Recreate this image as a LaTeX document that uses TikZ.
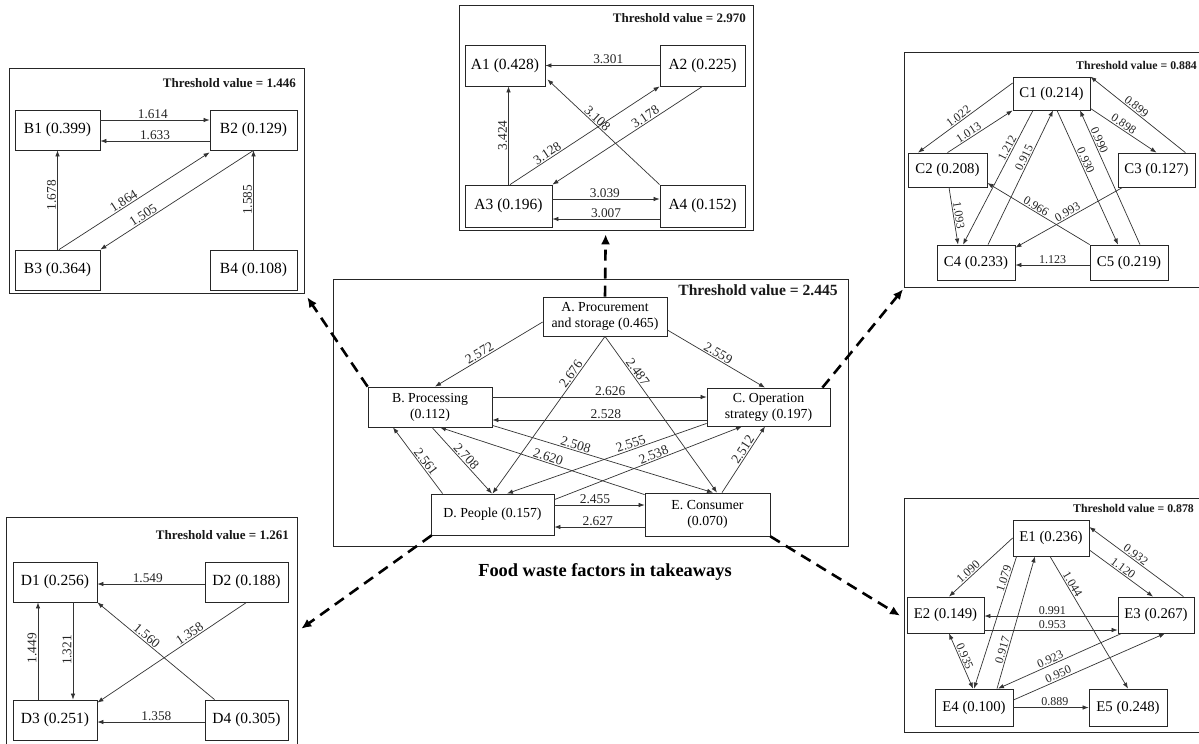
\documentclass[tikz,border=0pt]{standalone}
\usepackage{fontspec}
\setmainfont{Liberation Serif}
\usetikzlibrary{arrows.meta,calc}

% font sizes (picture unit is 1pt)
\newcommand\fbA{\fontsize{15.5}{17}\selectfont}
\newcommand\fbC{\fontsize{14.8}{17}\selectfont}
\newcommand\flA{\fontsize{13.3}{15}\selectfont}
\newcommand\flC{\fontsize{12}{14}\selectfont}
\newcommand\fthA{\bfseries\fontsize{13}{15}\selectfont}
\newcommand\fthC{\bfseries\fontsize{11.8}{14}\selectfont}
\newcommand\fbM{\fontsize{13.8}{16}\selectfont}
\newcommand\flM{\fontsize{13.5}{15}\selectfont}
\newcommand\fthM{\bfseries\fontsize{15.6}{18}\selectfont}
\newcommand\fttl{\bfseries\fontsize{18.4}{21}\selectfont}

\begin{document}
\begin{tikzpicture}[x=1pt,y=-1pt,
  panel/.style={draw=black!85, line width=1.3pt, inner sep=0pt, anchor=north west},
  thr/.style={inner sep=0pt, anchor=east, text=black!90},
  bx/.style={draw=black!85, line width=0.8pt, inner sep=0pt, align=center, fill=white},
  boxA/.style={bx, font=\fbA},
  boxC/.style={bx, font=\fbC},
  boxM/.style={bx, font=\fbM},
  arr/.style={draw=black!80, line width=0.7pt, -{Latex[length=6pt,width=4.5pt]}},
  biarr/.style={draw=black!80, line width=0.7pt, {Latex[length=6pt,width=4.5pt]}-{Latex[length=6pt,width=4.5pt]}},
  labA/.style={font=\flA, inner sep=1pt, text=black!85},
  labC/.style={font=\flC, inner sep=1pt, text=black!85},
  labM/.style={font=\flM, inner sep=1pt, text=black!85},
  vlab/.style={rotate=90, anchor=south},
  dasharr/.style={draw=black, line width=2.6pt, dash pattern=on 11pt off 7pt, -{Latex[length=10pt,width=9pt]}}
]
\fill[white] (0,0) rectangle (1199,744);
\useasboundingbox (0,0) rectangle (1199,744);

% ---------------- Panel A ----------------
\node[panel, minimum width=294, minimum height=225] (PA) at (459,5) {};
\node[thr, font=\fthA] (TA) at (746,18) {Threshold value = 2.970};
\node[boxA, minimum width=80, minimum height=41] (A1) at (505,65.5) {A1 (0.428)};
\node[boxA, minimum width=85, minimum height=41] (A2) at (702.5,65.5) {A2 (0.225)};
\node[boxA, minimum width=87, minimum height=42] (A3) at (508.5,206) {A3 (0.196)};
\node[boxA, minimum width=85, minimum height=42] (A4) at (702.5,206) {A4 (0.152)};

\draw[arr] (A2.west) -- node[labA, pos=0.45, above] {3.301} (A1.east);
\draw[arr] (A3.north) -- node[labA, pos=0.5, vlab] {3.424} (A3.north |- A1.south);
\draw[arr] ([shift={(1.5,0)}]A3.north) -- node[labA, pos=0.27, sloped, above] {3.128} (A2.south west);
\draw[arr] (A2.south) -- node[labA, pos=0.36, sloped, above] {3.178} (A3.north east);
\draw[arr] (A4.north west) -- node[labA, pos=0.59, sloped, above] {3.108} ([shift={(2,-7)}]A1.south east);
\draw[arr] ([shift={(0,-7)}]A3.east) -- node[labA, pos=0.49, above] {3.039} ([shift={(0,-7)}]A4.west);
\draw[arr] ([shift={(0,13)}]A4.west) -- node[labA, pos=0.5, above] {3.007} ([shift={(0,13)}]A3.east);

% ---------------- Panel B ----------------
\node[panel, minimum width=295, minimum height=225] (PB) at (9,68) {};
\node[thr, font=\fthA] (TB) at (296,83) {Threshold value = 1.446};
\node[boxA, minimum width=85, minimum height=40] (B1) at (57.5,130) {B1 (0.399)};
\node[boxA, minimum width=87, minimum height=40] (B2) at (253.5,130) {B2 (0.129)};
\node[boxA, minimum width=85, minimum height=40] (B3) at (57.5,270) {B3 (0.364)};
\node[boxA, minimum width=87, minimum height=40] (B4) at (253.5,270) {B4 (0.108)};

\draw[arr] ([shift={(0,-10)}]B1.east) -- node[labA, pos=0.48, above] {1.614} ([shift={(0,-10)}]B2.west);
\draw[arr] ([shift={(0,11)}]B2.west) -- node[labA, pos=0.5, above] {1.633} ([shift={(0,11)}]B1.east);
\draw[arr] (B3.north) -- node[labA, pos=0.55, vlab] {1.678} (B1.south);
\draw[arr] ([shift={(1.5,0)}]B3.north) -- node[labA, pos=0.45, sloped, above] {1.864} ([shift={(0,2)}]B2.south west);
\draw[arr] (B2.south) -- node[labA, pos=0.7, sloped, above] {1.505} (B3.north east);
\draw[arr] (B4.north) -- node[labA, pos=0.5, vlab] {1.585} (B2.south);

% ---------------- Panel C ----------------
\node[panel, minimum width=298, minimum height=235] (PC) at (904,52) {};
\node[thr, font=\fthC] (TC) at (1197,65) {Threshold value = 0.884};
\node[boxC, minimum width=77, minimum height=33] (C1) at (1051.5,93.5) {C1 (0.214)};
\node[boxC, minimum width=79, minimum height=34] (C2) at (947.5,170) {C2 (0.208)};
\node[boxC, minimum width=77, minimum height=34] (C3) at (1156.5,170) {C3 (0.127)};
\node[boxC, minimum width=78, minimum height=35] (C4) at (976,262.5) {C4 (0.233)};
\node[boxC, minimum width=78, minimum height=35] (C5) at (1129,262.5) {C5 (0.219)};

\draw[arr] ([shift={(0,-10.5)}]C1.west) -- node[labC, pos=0.54, sloped, above] {1.022} ([shift={(-29.5,0)}]C2.north);
\draw[arr] (C2.north) -- node[labC, pos=0.37, sloped, above] {1.013} (C1.south west);
\draw[arr] ([shift={(0,-2)}]C1.south east) -- node[labC, pos=0.46, sloped, above] {0.898} (C3.north);
\draw[arr] ([shift={(-10,0)}]C3.north east) -- node[labC, pos=0.55, sloped, above] {0.899} (C1.north east);
\draw[arr] ([shift={(1.5,0)}]C2.south) -- node[labC, pos=0.5, sloped, above] {1.093} ([shift={(-18,0)}]C4.north);
\draw[arr] ([shift={(-18.5,0)}]C1.south) -- node[labC, pos=0.3, sloped, above] {1.212} ([shift={(-13,0)}]C4.north);
\draw[arr] ([shift={(12,0)}]C4.north) -- node[labC, pos=0.63, sloped, above] {0.915} ([shift={(1.5,0)}]C1.south);
\draw[arr] ([shift={(5.5,0)}]C1.south) -- node[labC, pos=0.39, sloped, above] {0.930} ([shift={(-11,0)}]C5.north);
\draw[arr] ([shift={(11,0)}]C5.north) -- node[labC, pos=0.76, sloped, above] {0.990} ([shift={(28.5,0)}]C1.south);
\draw[arr] (C5.north west) -- node[labC, pos=0.55, sloped, above] {0.966} ([shift={(0,13)}]C2.east);
\draw[arr] ([shift={(5,0)}]C3.south west) -- node[labC, pos=0.49, sloped, above] {0.993} ([shift={(0,3)}]C4.north east);
\draw[arr] ([shift={(0,2.5)}]C5.west) -- node[labC, pos=0.5, above] {1.123} ([shift={(0,2.5)}]C4.east);

% ---------------- Panel D ----------------
\node[panel, minimum width=291, minimum height=232] (PD) at (6,517) {};
\node[thr, font=\fthA] (TD) at (289,535) {Threshold value = 1.261};
\node[boxA, minimum width=84, minimum height=40] (D1) at (55,582) {D1 (0.256)};
\node[boxA, minimum width=83, minimum height=40] (D2) at (246.5,582) {D2 (0.188)};
\node[boxA, minimum width=84, minimum height=40] (D3) at (55,720) {D3 (0.251)};
\node[boxA, minimum width=83, minimum height=40] (D4) at (246.5,720) {D4 (0.305)};

\draw[arr] ([shift={(0,2)}]D2.west) -- node[labA, pos=0.53, above] {1.549} ([shift={(0,2)}]D1.east);
\draw[arr] ([shift={(-17,0)}]D3.north) -- node[labA, pos=0.53, vlab] {1.449} ([shift={(-17,0)}]D1.south);
\draw[arr] ([shift={(18,0)}]D1.south) -- node[labA, pos=0.49, vlab] {1.321} ([shift={(18,0)}]D3.north);
\draw[arr] ([shift={(10,0)}]D4.north west) -- node[labA, pos=0.61, sloped, above] {1.560} (D1.south east);
\draw[arr] (D2.south) -- node[labA, pos=0.36, sloped, above] {1.358} ([shift={(0,3)}]D3.north east);
\draw[arr] ([shift={(0,2)}]D4.west) -- node[labA, pos=0.45, above] {1.358} ([shift={(0,2)}]D3.east);

% ---------------- Panel E ----------------
\node[panel, minimum width=298, minimum height=234] (PE) at (904,498) {};
\node[thr, font=\fthC] (TE) at (1194,508) {Threshold value = 0.878};
\node[boxC, minimum width=76, minimum height=36] (E1) at (1051,538) {E1 (0.236)};
\node[boxC, minimum width=77, minimum height=36] (E2) at (945.5,615) {E2 (0.149)};
\node[boxC, minimum width=76, minimum height=36] (E3) at (1156,615) {E3 (0.267)};
\node[boxC, minimum width=78, minimum height=37] (E4) at (974,707.5) {E4 (0.100)};
\node[boxC, minimum width=78, minimum height=37] (E5) at (1128,707.5) {E5 (0.248)};

\draw[arr] (E1.west) -- node[labC, pos=0.64, sloped, above] {1.090} ([shift={(3.5,0)}]E2.north);
\draw[arr] ([shift={(4,0)}]E1.south west) -- node[labC, pos=0.18, sloped, above] {1.079} (E4.north);
\draw[arr] ([shift={(23,0)}]E4.north) -- node[labC, pos=0.28, sloped, above] {0.917} ([shift={(-16,0)}]E1.south);
\draw[arr] ([shift={(0,12)}]E1.east) -- node[labC, pos=0.48, sloped, above] {1.120} ([shift={(-3,0)}]E3.north);
\draw[arr] ([shift={(-11,0)}]E3.north east) -- node[labC, pos=0.54, sloped, above] {0.932} ([shift={(0,-11)}]E1.east);
\draw[arr] ([shift={(-1,0)}]E1.south) -- node[labC, pos=0.23, sloped, above] {1.044} (E5.north);
\draw[arr] ([shift={(0,1)}]E3.west) -- node[labC, pos=0.49, above] {0.991} ([shift={(0,1)}]E2.east);
\draw[arr] ([shift={(0,15)}]E2.east) -- node[labC, pos=0.51, above] {0.953} ([shift={(0,15)}]E3.west);
\draw[biarr] ([shift={(3.5,0)}]E2.south) -- node[labC, pos=0.45, sloped, above] {0.935} ([shift={(-1,0)}]E4.north);
\draw[arr] ([shift={(4,0)}]E3.south west) -- node[labC, pos=0.56, sloped, above] {0.923} ([shift={(24,0)}]E4.north);
\draw[arr] ([shift={(0,-7.5)}]E4.east) -- node[labC, pos=0.31, sloped, above] {0.950} ([shift={(9,0)}]E3.south);
\draw[arr] (E4.east) -- node[labC, pos=0.55, above] {0.889} (E5.west);

% ---------------- Main panel ----------------
\node[panel, minimum width=515, minimum height=267] (PM) at (333,279) {};
\node[thr, font=\fthM] (TM) at (838,290) {Threshold value = 2.445};
\node[boxM, minimum width=124, minimum height=39] (A) at (605,316.5) {A. Procurement\\and storage (0.465)};
\node[boxM, minimum width=124, minimum height=40] (B) at (430,407) {B. Processing\\(0.112)};
\node[boxM, minimum width=123, minimum height=38] (C) at (768.5,407) {C. Operation\\strategy (0.197)};
\node[boxM, minimum width=123, minimum height=41] (D) at (492.5,514.5) {D. People (0.157)};
\node[boxM, minimum width=125, minimum height=43] (E) at (707.5,514.5) {E. Consumer\\(0.070)};

\draw[arr] ([shift={(0,5.5)}]A.west) -- node[labM, pos=0.56, sloped, above] {2.572} ([shift={(5,0)}]B.north);
\draw[arr] ([shift={(0,13.5)}]A.east) -- node[labM, pos=0.49, sloped, above] {2.559} ([shift={(-3.5,0)}]C.north);
\draw[arr] (A.south) -- node[labM, pos=0.26, sloped, above] {2.676} (D.north);
\draw[arr] (A.south) -- node[labM, pos=0.25, sloped, above] {2.487} ([shift={(9.5,0)}]E.north);
\draw[arr] ([shift={(0,-10)}]B.east) -- node[labM, pos=0.55, above] {2.626} ([shift={(0,-10)}]C.west);
\draw[arr] ([shift={(0,13)}]C.west) -- node[labM, pos=0.47, above] {2.528} ([shift={(0,13)}]B.east);
\draw[arr] ([shift={(12,0)}]D.north west) -- node[labM, pos=0.43, sloped, above] {2.561} ([shift={(-37,0)}]B.south);
\draw[arr] ([shift={(2,0)}]B.south) -- node[labM, pos=0.5, sloped, above] {2.708} ([shift={(-0.5,0)}]D.north);
\draw[arr] ([shift={(0,2)}]E.north west) -- node[labM, pos=0.48, sloped, above] {2.620} ([shift={(10,0)}]B.south);
\draw[arr] ([shift={(0,-2)}]B.south east) -- node[labM, pos=0.37, sloped, above] {2.508} ([shift={(5.5,0)}]E.north);
\draw[arr] ([shift={(0,-3)}]C.south west) -- node[labM, pos=0.37, sloped, above] {2.555} ([shift={(14.5,0)}]D.north);
\draw[arr] ([shift={(0,6)}]D.north east) -- node[labM, pos=0.54, sloped, above] {2.538} ([shift={(-26.5,0)}]C.south);
\draw[arr] ([shift={(14.5,0)}]E.north) -- node[labM, pos=0.6, sloped, above] {2.512} ([shift={(-3.5,0)}]C.south);
\draw[arr] ([shift={(0,-9.5)}]D.east) -- node[labM, pos=0.45, above] {2.455} ([shift={(0,-9.5)}]E.west);
\draw[arr] ([shift={(0,12.5)}]E.west) -- node[labM, pos=0.52, above] {2.627} ([shift={(0,12.5)}]D.east);

\node[font=\fttl, inner sep=0pt] (title) at (605,572) {Food waste factors in takeaways};

% ---------------- links from the main panel to the detail panels ----------------
\draw[dasharr] (A.north) -- ([shift={(-1,3)}]PA.south);
\draw[dasharr] (B.north west) -- ([shift={(2,3)}]PB.south east);
\draw[dasharr] ([shift={(-8,0)}]C.north east) -- ([shift={(-1,1)}]PC.south west);
\draw[dasharr] ([shift={(1,0)}]D.south west) -- ([shift={(3,-5)}]PD.east);
\draw[dasharr] (E.south east) -- ([shift={(-4,0)}]PE.west);
\end{tikzpicture}
\end{document}
